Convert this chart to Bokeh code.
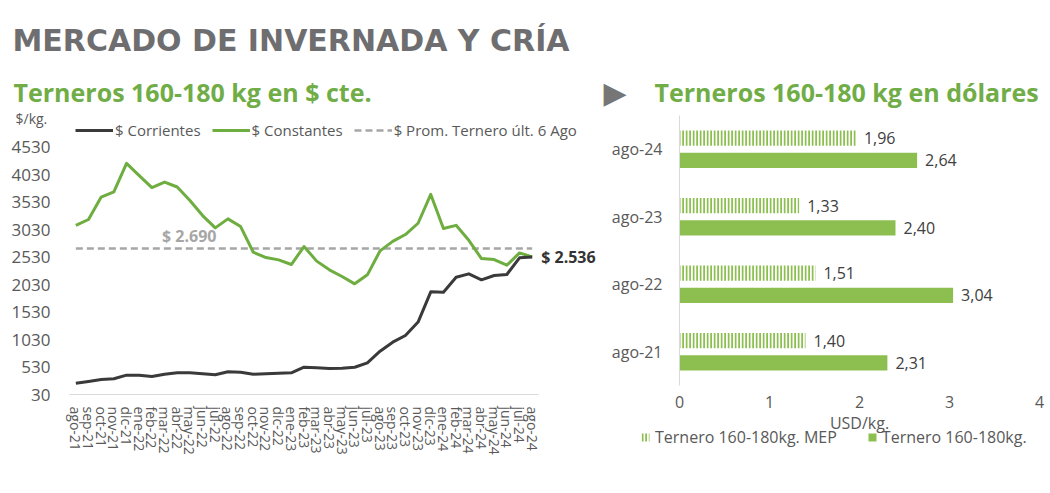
from bokeh.plotting import figure
from bokeh.models import (ColumnDataSource, Range1d, FixedTicker,
                          Legend, LegendItem, Label)
from bokeh.transform import dodge
from bokeh.layouts import row
from bokeh.embed import file_html
from bokeh.resources import INLINE
from bokeh.core.properties import value

# ---------------- data: left chart ----------------
months = ["ago-21", "sep-21", "oct-21", "nov-21", "dic-21", "ene-22", "feb-22",
          "mar-22", "abr-22", "may-22", "jun-22", "jul-22", "ago-22", "sep-22",
          "oct-22", "nov-22", "dic-22", "ene-23", "feb-23", "mar-23", "abr-23",
          "may-23", "jun-23", "jul-23", "ago-23", "sep-23", "oct-23", "nov-23",
          "dic-23", "ene-24", "feb-24", "mar-24", "abr-24", "may-24", "jun-24",
          "jul-24", "ago-24"]
corrientes = [236, 267, 303, 316, 382, 382, 358, 400, 425, 425, 407, 389, 443,
              436, 400, 407, 418, 425, 527, 516, 504, 509, 527, 607, 819, 983,
              1105, 1350, 1900, 1893, 2167, 2228, 2119, 2198, 2216, 2520, 2536]
constantes = [3110, 3218, 3627, 3720, 4240, 4019, 3800, 3901, 3810, 3564, 3290,
              3066, 3230, 3090, 2622, 2525, 2483, 2398, 2726, 2460, 2301, 2180,
              2046, 2210, 2647, 2820, 2944, 3150, 3675, 3054, 3112, 2839, 2507,
              2489, 2385, 2609, 2536]
promedio = 2690
y_ticks = [30, 530, 1030, 1530, 2030, 2530, 3030, 3530, 4030, 4530]

# ---------------- data: right chart ----------------
years = ["ago-21", "ago-22", "ago-23", "ago-24"]
mep = [1.40, 1.51, 1.33, 1.96]
oficial = [2.31, 3.04, 2.40, 2.64]
x_ticks_usd = [0, 1, 2, 3, 4]

FONT = "Open Sans"
GREEN_T = "#70AD47"
GREEN_L = "#6EAD3F"
GREEN_B = "#8CBF50"
GRAY_T = "#6E6E70"
GRAY_X = "#595959"
H = 492


def fmt_ar(v, dec=0):
    s = f"{v:,.{dec}f}"
    return s.replace(",", "X").replace(".", ",").replace("X", ".")


def screen_label(fig, x, y_img, text, size, color, font=FONT, bold=False,
                 baseline="alphabetic"):
    fig.add_layout(Label(x=x, y=H - y_img, x_units="screen", y_units="screen",
                         text=text, text_font=font,
                         text_font_style="bold" if bold else "normal",
                         text_font_size=size, text_color=color,
                         text_baseline=baseline))


# ================= left chart =================
xi = list(range(len(months)))
p1 = figure(width=600, height=H, x_range=Range1d(-5.943, 41.39),
            y_range=Range1d(-1755.4, 7208.1),
            output_backend="svg", toolbar_location=None, min_border=0)
p1.outline_line_color = None
p1.grid.visible = False

r_avg = p1.line(xi, [promedio] * len(months), line_color="#A6A6A6",
                line_width=2.5, line_dash="7 4")
r_con = p1.line(xi, constantes, line_color=GREEN_L, line_width=3,
                line_join="round")
r_cur = p1.line(xi, corrientes, line_color="#3A3A3A", line_width=3,
                line_join="round")

p1.yaxis.fixed_location = xi[0] - 0.5
p1.yaxis.ticker = FixedTicker(ticks=y_ticks)
p1.yaxis.axis_line_color = None
p1.yaxis.major_tick_line_color = None
p1.yaxis.minor_tick_line_color = None
p1.yaxis.major_label_text_font = FONT
p1.yaxis.major_label_text_font_size = "17px"
p1.yaxis.major_label_text_color = GRAY_X
p1.yaxis.major_label_standoff = 13

p1.xaxis.fixed_location = y_ticks[0]
p1.xaxis.bounds = (xi[0] - 0.5, xi[-1] + 0.5)
p1.xaxis.ticker = FixedTicker(ticks=xi)
p1.xaxis.major_label_overrides = {i: m for i, m in zip(xi, months)}
p1.xaxis.axis_line_color = "#D9D9D9"
p1.xaxis.major_tick_line_color = None
p1.xaxis.minor_tick_line_color = None
p1.xaxis.major_label_orientation = "vertical"
p1.xaxis.major_label_text_font = FONT
p1.xaxis.major_label_text_font_size = "14px"
p1.xaxis.major_label_text_color = GRAY_X
p1.xaxis.major_label_standoff = 6

leg1 = Legend(items=[LegendItem(label="$ Corrientes", renderers=[r_cur]),
                     LegendItem(label="$ Constantes", renderers=[r_con]),
                     LegendItem(label="$ Prom. Ternero últ. 6 Ago", renderers=[r_avg])],
              orientation="horizontal", location=(75, H - 140),
              glyph_width=38, glyph_height=20, label_standoff=2, spacing=11,
              padding=0, margin=0, border_line_color=None,
              background_fill_alpha=0,
              label_text_font=FONT, label_text_font_size="15px",
              label_text_color=GRAY_X)
p1.add_layout(leg1)

screen_label(p1, 12, 39.5, "MERCADO DE INVERNADA Y CRÍA", "30px", GRAY_T,
             font="DejaVu Sans", bold=True)
screen_label(p1, 13, 91, "Terneros 160-180 kg en $ cte.", "25px", GREEN_T,
             bold=True)
screen_label(p1, 15, 117.5, "$/kg.", "14px", GRAY_X, baseline="middle")

p1.add_layout(Label(x=months.index("feb-22") + 0.8, y=promedio, y_offset=12,
                    text="$ " + fmt_ar(promedio),
                    text_font=FONT, text_font_style="bold",
                    text_font_size="16px", text_color="#A6A6A6",
                    text_baseline="alphabetic"))
p1.add_layout(Label(x=xi[-1], y=corrientes[-1], x_offset=9,
                    text="$ " + fmt_ar(corrientes[-1]),
                    text_font=FONT, text_font_style="bold",
                    text_font_size="16px", text_color="#333333",
                    text_baseline="middle"))

# ================= right chart =================
ypos = list(range(len(years)))
src = ColumnDataSource(dict(
    y=ypos, mep=mep, ofi=oficial,
    mep_lbl=[fmt_ar(v, 2) for v in mep],
    ofi_lbl=[fmt_ar(v, 2) for v in oficial]))

p2 = figure(width=448, height=H, y_range=Range1d(-2.0835, 5.202),
            x_range=Range1d(-0.8778, 4.1),
            output_backend="svg", toolbar_location=None, min_border=0)
p2.outline_line_color = None
p2.grid.visible = False

off = 0.165
r_mep = p2.hbar(y=dodge("y", off), left=0, right="mep",
                height=0.227, source=src, fill_color="white", line_color=None,
                hatch_pattern="vertical_line", hatch_color=GREEN_B,
                hatch_scale=3.5, hatch_weight=2)
r_ofi = p2.hbar(y=dodge("y", -off), left=0, right="ofi",
                height=0.227, source=src, fill_color=GREEN_B, line_color=None)
p2.text(x="mep", y=dodge("y", off), text="mep_lbl",
        source=src, x_offset=8, text_baseline="middle",
        text_font=value(FONT), text_font_size="16px", text_color="#404040")
p2.text(x="ofi", y=dodge("y", -off), text="ofi_lbl",
        source=src, x_offset=8, text_baseline="middle",
        text_font=value(FONT), text_font_size="16px", text_color="#404040")

p2.yaxis.fixed_location = x_ticks_usd[0]
p2.yaxis.ticker = FixedTicker(ticks=ypos)
p2.yaxis.major_label_overrides = {i: years[i] for i in ypos}
p2.yaxis.bounds = (ypos[0] - 0.5, ypos[-1] + 0.5)
p2.yaxis.axis_line_color = "#D9D9D9"
p2.yaxis.major_tick_line_color = None
p2.yaxis.minor_tick_line_color = None
p2.yaxis.major_label_text_font = FONT
p2.yaxis.major_label_text_font_size = "16px"
p2.yaxis.major_label_text_color = GRAY_X
p2.yaxis.major_label_standoff = 11

p2.xaxis.fixed_location = -0.573
p2.xaxis.bounds = (x_ticks_usd[0], x_ticks_usd[-1])
p2.xaxis.ticker = FixedTicker(ticks=x_ticks_usd)
p2.xaxis.axis_line_color = None
p2.xaxis.major_tick_line_color = None
p2.xaxis.minor_tick_line_color = None
p2.xaxis.major_label_text_font = FONT
p2.xaxis.major_label_text_font_size = "16px"
p2.xaxis.major_label_text_color = GRAY_X
p2.xaxis.major_label_standoff = 0
p2.xaxis.axis_label = "USD/kg."
p2.xaxis.axis_label_text_font = FONT
p2.xaxis.axis_label_text_font_size = "16px"
p2.xaxis.axis_label_text_font_style = "normal"
p2.xaxis.axis_label_text_color = GRAY_X
p2.xaxis.axis_label_standoff = 0

leg2 = Legend(items=[LegendItem(label="Ternero 160-180kg. MEP", renderers=[r_mep]),
                     LegendItem(label="Ternero 160-180kg.", renderers=[r_ofi])],
              orientation="horizontal", location=(40, H - 448),
              glyph_width=10, glyph_height=10, label_standoff=5, spacing=30,
              padding=0, margin=0, border_line_color=None,
              background_fill_alpha=0,
              label_text_font=FONT, label_text_font_size="16px",
              label_text_color=GRAY_X)
p2.add_layout(leg2)

screen_label(p2, 3, 92, "▶", "30px", "#767676", font="DejaVu Sans",
             baseline="middle")
screen_label(p2, 54, 91, "Terneros 160-180 kg en dólares", "25px", GREEN_T,
             bold=True)

layout = row(p1, p2)
open("out.html", "w").write(file_html(layout, INLINE))
